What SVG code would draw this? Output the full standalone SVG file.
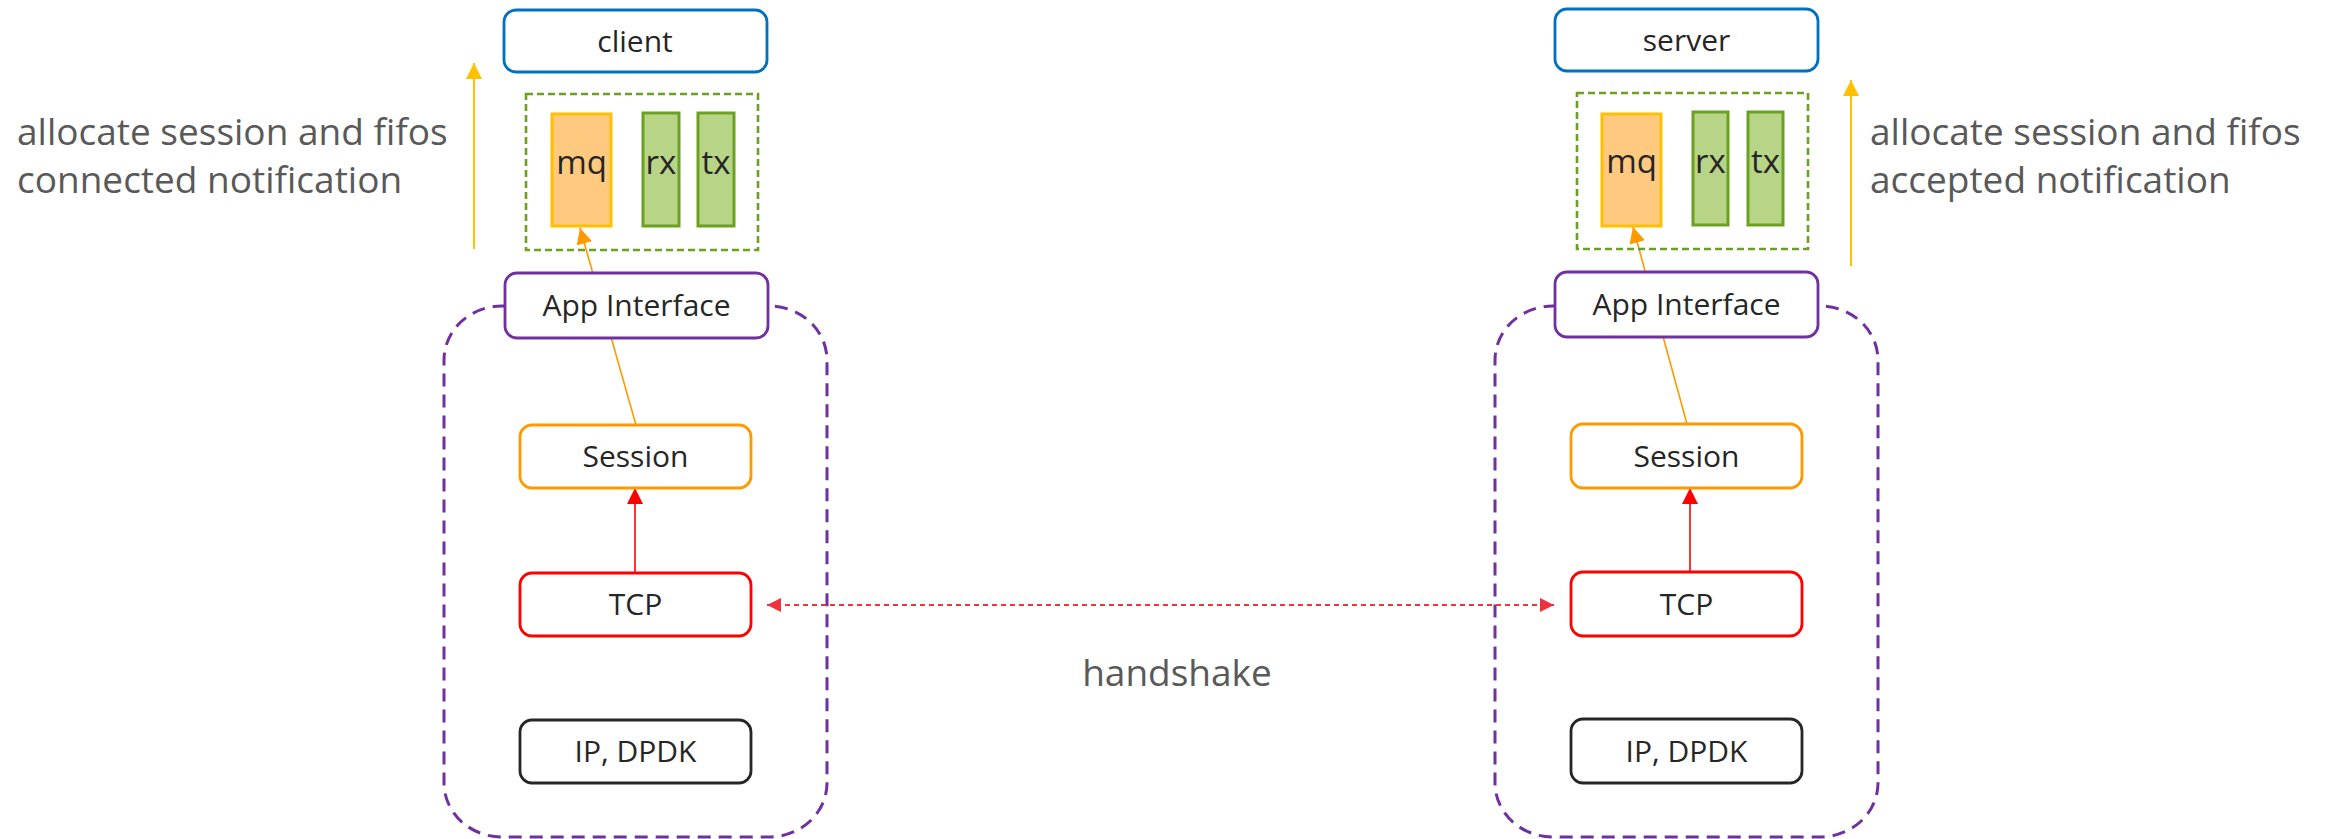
<svg xmlns="http://www.w3.org/2000/svg" width="2328" height="839" viewBox="0 0 2328 839">
  <defs>
    <style>
      .box { fill: #ffffff; stroke-width: 2.8; }
      .host { stroke: #0070C0; }
      .app { stroke: #7030A0; }
      .sess { stroke: #FF9900; }
      .tcp { stroke: #FF0000; }
      .ip { stroke: #262626; }
      .stack { fill: none; stroke: #7030A0; stroke-width: 3; stroke-dasharray: 13 8; }
      .fifos { fill: none; stroke: #6AA121; stroke-width: 2.6; stroke-dasharray: 7 4; }
      .mq { fill: #FFC97F; stroke: #FFC000; stroke-width: 3; }
      .fifo { fill: #B8D487; stroke: #6AA121; stroke-width: 3; }
      .lbl { font-family: "Open Sans", "Liberation Sans", sans-serif; font-size: 30px; fill: #262626; text-anchor: middle; }
      .q { font-size: 33px; }
      .note { font-family: "Open Sans", "Liberation Sans", sans-serif; font-size: 37px; fill: #595959; }
      .up { stroke: #FFC000; stroke-width: 2; fill: none; }
      .ctrl { stroke: #FF9900; stroke-width: 1.6; fill: none; }
      .evt { stroke: #FF0000; stroke-width: 1.6; fill: none; }
      .hs { stroke: #F0323C; stroke-width: 1.8; stroke-dasharray: 5 4; fill: none; }
    </style>
    <marker id="arrYellow" markerUnits="userSpaceOnUse" markerWidth="16" markerHeight="16" refX="16" refY="8" orient="auto">
      <path d="M0,0 L16,8 L0,16 z" fill="#FFC000"/>
    </marker>
    <marker id="arrOrange" markerUnits="userSpaceOnUse" markerWidth="16" markerHeight="16" refX="16" refY="8" orient="auto">
      <path d="M0,0 L16,8 L0,16 z" fill="#FF9900"/>
    </marker>
    <marker id="arrRed" markerUnits="userSpaceOnUse" markerWidth="16" markerHeight="16" refX="16" refY="8" orient="auto">
      <path d="M0,0 L16,8 L0,16 z" fill="#FF0000"/>
    </marker>
    <marker id="arrHsEnd" markerUnits="userSpaceOnUse" markerWidth="14" markerHeight="14" refX="14" refY="7" orient="auto">
      <path d="M0,0 L14,7 L0,14 z" fill="#F0323C"/>
    </marker>
    <marker id="arrHsStart" markerUnits="userSpaceOnUse" markerWidth="14" markerHeight="14" refX="0" refY="7" orient="auto">
      <path d="M14,0 L0,7 L14,14 z" fill="#F0323C"/>
    </marker>
  </defs>

  <rect width="2328" height="839" fill="#ffffff"/>

  <!-- stack outlines (drawn first, App Interface boxes sit on top) -->
  <rect id="client-stack" class="stack" x="444" y="306" width="383" height="531" rx="58" ry="54"/>
  <rect id="server-stack" class="stack" x="1495" y="306" width="383" height="531" rx="58" ry="54"/>

  <!-- connectors -->
  <g id="connectors">
    <line class="up" x1="474" y1="249" x2="474" y2="63" marker-end="url(#arrYellow)"/>
    <line class="up" x1="1851" y1="266" x2="1851" y2="80" marker-end="url(#arrYellow)"/>
    <line class="ctrl" x1="636" y1="425" x2="580" y2="228" marker-end="url(#arrOrange)"/>
    <line class="ctrl" x1="1687" y1="424" x2="1633" y2="227" marker-end="url(#arrOrange)"/>
    <line class="evt" x1="635" y1="573" x2="635" y2="488" marker-end="url(#arrRed)"/>
    <line class="evt" x1="1690" y1="572" x2="1690" y2="488" marker-end="url(#arrRed)"/>
    <line class="hs" x1="767" y1="605" x2="1554" y2="605" marker-start="url(#arrHsStart)" marker-end="url(#arrHsEnd)"/>
  </g>

  <!-- client side -->
  <g id="client">
    <rect class="box host" x="504" y="10" width="263" height="62" rx="12"/>
    <text class="lbl" x="635" y="52">client</text>
  </g>
  <g id="client-fifos">
    <rect class="fifos" x="526" y="94" width="232" height="156"/>
  </g>
  <g id="client-mq">
    <rect class="mq" x="552" y="114" width="59" height="112"/>
    <text class="lbl q" x="581.5" y="174">mq</text>
  </g>
  <g id="client-rx">
    <rect class="fifo" x="643" y="113" width="36" height="113"/>
    <text class="lbl q" x="661" y="174">rx</text>
  </g>
  <g id="client-tx">
    <rect class="fifo" x="698" y="113" width="36" height="113"/>
    <text class="lbl q" x="716" y="174">tx</text>
  </g>
  <g id="client-app">
    <rect class="box app" x="505" y="273" width="263" height="65" rx="12"/>
    <text class="lbl" x="636.5" y="316">App Interface</text>
  </g>
  <g id="client-session">
    <rect class="box sess" x="520" y="425" width="231" height="63" rx="12"/>
    <text class="lbl" x="635.5" y="467">Session</text>
  </g>
  <g id="client-tcp">
    <rect class="box tcp" x="520" y="573" width="231" height="63" rx="12"/>
    <text class="lbl" x="635.5" y="615">TCP</text>
  </g>
  <g id="client-ip">
    <rect class="box ip" x="520" y="720" width="231" height="63" rx="12"/>
    <text class="lbl" x="635.5" y="762">IP, DPDK</text>
  </g>
  <g id="client-note">
    <text class="note" x="17" y="145">allocate session and fifos</text>
    <text class="note" x="17" y="193">connected notification</text>
  </g>

  <!-- server side -->
  <g id="server">
    <rect class="box host" x="1555" y="9" width="263" height="62" rx="12"/>
    <text class="lbl" x="1686.5" y="51">server</text>
  </g>
  <g id="server-fifos">
    <rect class="fifos" x="1577" y="93" width="231" height="156"/>
  </g>
  <g id="server-mq">
    <rect class="mq" x="1602" y="114" width="59" height="112"/>
    <text class="lbl q" x="1631.5" y="173">mq</text>
  </g>
  <g id="server-rx">
    <rect class="fifo" x="1693" y="112" width="35" height="113"/>
    <text class="lbl q" x="1710.5" y="173">rx</text>
  </g>
  <g id="server-tx">
    <rect class="fifo" x="1748" y="112" width="35" height="113"/>
    <text class="lbl q" x="1765.5" y="173">tx</text>
  </g>
  <g id="server-app">
    <rect class="box app" x="1555" y="272" width="263" height="65" rx="12"/>
    <text class="lbl" x="1686.5" y="315">App Interface</text>
  </g>
  <g id="server-session">
    <rect class="box sess" x="1571" y="424" width="231" height="64" rx="12"/>
    <text class="lbl" x="1686.5" y="467">Session</text>
  </g>
  <g id="server-tcp">
    <rect class="box tcp" x="1571" y="572" width="231" height="64" rx="12"/>
    <text class="lbl" x="1686.5" y="615">TCP</text>
  </g>
  <g id="server-ip">
    <rect class="box ip" x="1571" y="719" width="231" height="64" rx="12"/>
    <text class="lbl" x="1686.5" y="762">IP, DPDK</text>
  </g>
  <g id="server-note">
    <text class="note" x="1870" y="145">allocate session and fifos</text>
    <text class="note" x="1870" y="193">accepted notification</text>
  </g>

  <g id="handshake-label">
    <text class="note" x="1177" y="686" text-anchor="middle" font-size="36.5">handshake</text>
  </g>
</svg>
